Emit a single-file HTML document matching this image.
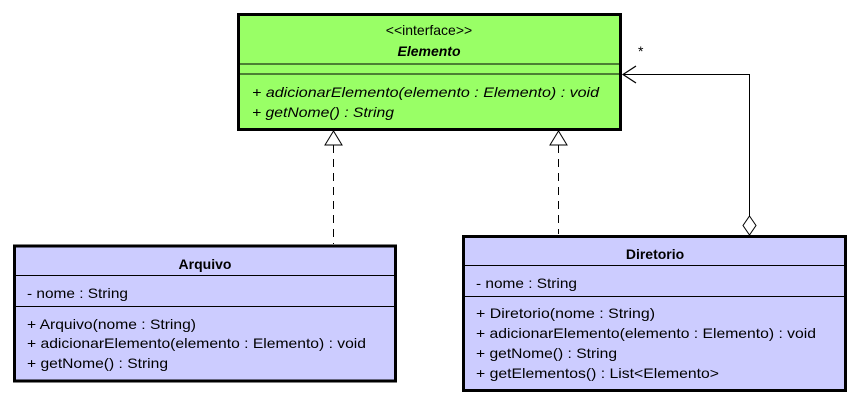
<!DOCTYPE html>
<html><head><meta charset="utf-8"><style>
html,body{margin:0;padding:0;background:#fff;}
svg{display:block;}
text{font-family:"Liberation Sans",sans-serif;font-size:14px;fill:#000;}
</style></head><body>
<svg width="858" height="405" viewBox="0 0 858 405" xmlns="http://www.w3.org/2000/svg">
<!-- Elemento -->
<rect x="238.5" y="14.5" width="382" height="115" fill="#99ff66" stroke="#000" stroke-width="3"/>
<line x1="238" y1="64" x2="621" y2="64" stroke="#000" stroke-width="1"/>
<line x1="238" y1="74" x2="621" y2="74" stroke="#000" stroke-width="1"/>
<text x="429" y="35" text-anchor="middle" font-size="13">&lt;&lt;interface&gt;&gt;</text>
<text x="429" y="56" text-anchor="middle" font-weight="bold" font-style="italic" font-size="15">Elemento</text>
<text x="252" y="97" font-style="italic" textLength="347" lengthAdjust="spacingAndGlyphs">+ adicionarElemento(elemento : Elemento) : void</text>
<text x="252" y="117" font-style="italic" textLength="142" lengthAdjust="spacingAndGlyphs">+ getNome() : String</text>

<!-- Arquivo -->
<rect x="14.5" y="246" width="381" height="135" fill="#ccccff" stroke="#000" stroke-width="3"/>
<line x1="14" y1="275.5" x2="396" y2="275.5" stroke="#000" stroke-width="1"/>
<line x1="14" y1="306.5" x2="396" y2="306.5" stroke="#000" stroke-width="1"/>
<text x="205" y="269" text-anchor="middle" font-weight="bold" font-size="15">Arquivo</text>
<text x="27" y="298" textLength="101" lengthAdjust="spacingAndGlyphs">- nome : String</text>
<text x="27" y="329" textLength="169" lengthAdjust="spacingAndGlyphs">+ Arquivo(nome : String)</text>
<text x="27" y="348" textLength="339" lengthAdjust="spacingAndGlyphs">+ adicionarElemento(elemento : Elemento) : void</text>
<text x="27" y="368" textLength="141" lengthAdjust="spacingAndGlyphs">+ getNome() : String</text>

<!-- Diretorio -->
<rect x="463.5" y="236.5" width="382" height="154" fill="#ccccff" stroke="#000" stroke-width="3"/>
<line x1="463" y1="265.5" x2="846" y2="265.5" stroke="#000" stroke-width="1"/>
<line x1="463" y1="296.5" x2="846" y2="296.5" stroke="#000" stroke-width="1"/>
<text x="655" y="259" text-anchor="middle" font-weight="bold" font-size="15">Diretorio</text>
<text x="476" y="288" textLength="101" lengthAdjust="spacingAndGlyphs">- nome : String</text>
<text x="476" y="318" textLength="179" lengthAdjust="spacingAndGlyphs">+ Diretorio(nome : String)</text>
<text x="476" y="338" textLength="340" lengthAdjust="spacingAndGlyphs">+ adicionarElemento(elemento : Elemento) : void</text>
<text x="476" y="358" textLength="141" lengthAdjust="spacingAndGlyphs">+ getNome() : String</text>
<text x="476" y="378" textLength="243" lengthAdjust="spacingAndGlyphs">+ getElementos() : List&lt;Elemento&gt;</text>

<!-- realization connectors -->
<line x1="333.5" y1="145" x2="333.5" y2="244" stroke="#000" stroke-width="1" stroke-dasharray="8,6"/>
<polygon points="333.5,131 325,145 342,145" fill="#fff" stroke="#000" stroke-width="1"/>
<line x1="558.5" y1="145" x2="558.5" y2="234" stroke="#000" stroke-width="1" stroke-dasharray="8,6"/>
<polygon points="558.5,131 550,145 567,145" fill="#fff" stroke="#000" stroke-width="1"/>

<!-- aggregation -->
<polyline points="749.5,216 749.5,74.5 623,74.5" fill="none" stroke="#000" stroke-width="1"/>
<polyline points="636,66 623,74.5 636,83" fill="none" stroke="#000" stroke-width="1.2"/>
<polygon points="749.5,216 756,225.5 749.5,235 743,225.5" fill="#fff" stroke="#000" stroke-width="1"/>
<text x="638" y="56" font-size="12">*</text>
</svg>
</body></html>
